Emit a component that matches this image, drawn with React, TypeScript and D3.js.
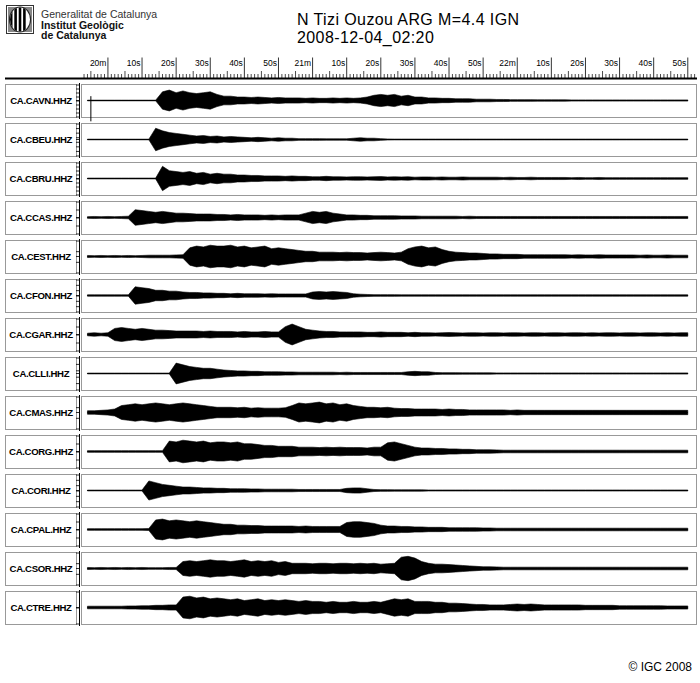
import React from 'react';
import * as d3 from 'd3';

// ---------- DATA ----------
const stations = [
  'CA.CAVN.HHZ', 'CA.CBEU.HHZ', 'CA.CBRU.HHZ', 'CA.CCAS.HHZ', 'CA.CEST.HHZ',
  'CA.CFON.HHZ', 'CA.CGAR.HHZ', 'CA.CLLI.HHZ', 'CA.CMAS.HHZ', 'CA.CORG.HHZ',
  'CA.CORI.HHZ', 'CA.CPAL.HHZ', 'CA.CSOR.HHZ', 'CA.CTRE.HHZ',
];

// envelope half-amplitude samples, every 2 s starting at 02:19:54 (t = -6 s)
const sampleStart = -6;
const sampleStep = 2;

const cavn = [
  0.4, 0.4, 0.4, 0.4, 0.4, 0.4, 0.4, 0.4, 0.4, 0.4,
  0.4, 10, 12, 9, 11, 9, 8, 9, 10, 7,
  5, 5, 4, 4, 3.5, 4, 3.5, 3, 3.5, 3,
  3, 3, 2.5, 3, 2.5, 2.5, 3, 2.5, 3, 2.5,
  3, 4, 6, 7, 6, 7, 5, 6, 4, 4,
  3, 3, 2.5, 2.5, 2, 2, 2, 1.5, 1.5, 1.5,
  1.2, 1.2, 1, 1, 1, 1, 0.8, 0.8, 0.8, 0.8,
  0.8, 0.7, 0.7, 0.7, 0.7, 0.7, 0.7, 0.7, 0.7, 0.7,
  0.7, 0.7, 0.7, 0.7, 0.7, 0.7, 0.7, 0.7, 0.7,
];
const cbeu = [
  0.4, 0.4, 0.4, 0.4, 0.4, 0.4, 0.4, 0.4, 0.4, 0.4,
  13, 10, 8, 7, 6, 5, 4, 4.5, 3.5, 4,
  3, 3.5, 3, 2.5, 2, 2.5, 2, 1.5, 2, 1.5,
  1.5, 1, 1, 1, 1, 0.8, 0.8, 0.8, 0.8, 1.5,
  2, 1.5, 1.5, 1, 0.6, 0.5, 0.5, 0.5, 0.5, 0.5,
  0.5, 0.5, 0.5, 0.5, 0.5, 0.5, 0.5, 0.5, 0.5, 0.5,
  0.5, 0.5, 0.5, 0.5, 0.5, 0.5, 0.5, 0.5, 0.5, 0.5,
  0.5, 0.5, 0.5, 0.5, 0.5, 0.5, 0.5, 0.5, 0.5, 0.5,
  0.5, 0.5, 0.5, 0.5, 0.5, 0.5, 0.5, 0.5, 0.5,
];
const cbru = [
  0.5, 0.5, 0.5, 0.5, 0.5, 0.5, 0.5, 0.5, 0.5, 0.5,
  0.5, 14, 9, 8, 7, 8, 6, 7, 5, 6,
  5, 5, 4, 4, 3.5, 3.5, 3, 3, 3, 2.5,
  3, 2.5, 2.5, 2, 2, 2.5, 2, 2, 1.8, 2,
  2, 1.8, 2, 2.2, 1.8, 2, 1.8, 2, 1.5, 1.8,
  1.8, 1.5, 1.8, 1.5, 1.5, 1.8, 1.5, 1.5, 1.5, 1.5,
  1.5, 1.2, 1.5, 1.2, 1.2, 1.5, 1.2, 1.2, 1.2, 1.2,
  1.2, 1, 1.2, 1, 1, 1.2, 1, 1, 1, 1,
  1, 1, 1, 1, 1, 1, 1, 1, 1,
];
const ccas = [
  1, 1.2, 1, 1.2, 1, 1.2, 1.5, 9, 8, 7,
  6, 7, 6, 5, 5, 4.5, 4, 4, 4, 3.5,
  3.5, 3, 3.5, 3, 3, 3, 2.5, 3, 2.5, 3,
  3, 3, 5, 7, 6, 7, 5, 4, 3, 3,
  2.5, 2.5, 2, 2, 2, 2, 1.8, 1.8, 1.8, 1.5,
  1.5, 1.5, 1.5, 1.5, 1.5, 1.2, 1.5, 1.2, 1.2, 1.2,
  1.2, 1.2, 1.2, 1.2, 1.2, 1.2, 1.2, 1.2, 1.2, 1.2,
  1.2, 1.2, 1.2, 1.2, 1.2, 1.2, 1.2, 1.2, 1.2, 1.2,
  1.2, 1.2, 1.2, 1.2, 1.2, 1.2, 1.2, 1.2, 1.2,
];
const cest = [
  1.2, 1, 1.2, 1, 1.2, 1, 1.2, 1, 1.2, 1.5,
  1.5, 1.5, 1.5, 1.8, 2, 10, 12, 11, 13, 12,
  12, 13, 11, 12, 10, 11, 12, 9, 10, 9,
  8, 7, 6, 6, 5, 5, 5, 4.5, 5, 4.5,
  4.5, 4, 4.5, 5, 4.5, 4, 5, 9, 11, 12,
  10, 11, 8, 6, 5, 4.5, 4, 4, 3.5, 3,
  3, 2.5, 2.5, 2.5, 2, 2, 2, 2, 2, 2,
  2, 1.8, 2, 1.8, 1.8, 2, 1.8, 1.8, 1.8, 1.8,
  1.8, 1.5, 1.8, 1.5, 1.5, 1.8, 1.5, 1.5, 1.5,
];
const cfon = [
  0.8, 0.8, 0.8, 0.8, 0.8, 0.8, 0.8, 10, 9, 8,
  6, 6, 5, 5, 4, 3.5, 3.5, 3, 3, 2.5,
  2.5, 2, 2.5, 2, 2, 2, 1.8, 2, 1.8, 1.8,
  1.8, 1.8, 1.8, 4, 4.5, 4, 4.5, 4, 3.5, 2,
  1.5, 1.2, 1, 1, 1, 1, 0.8, 0.8, 0.8, 0.8,
  0.8, 0.8, 0.8, 0.8, 0.8, 0.8, 0.8, 0.8, 0.8, 0.8,
  0.8, 0.8, 0.8, 0.8, 0.8, 0.8, 0.8, 0.8, 0.8, 0.8,
  0.8, 0.8, 0.8, 0.8, 0.8, 0.8, 0.8, 0.8, 0.8, 0.8,
  0.8, 0.8, 0.8, 0.8, 0.8, 0.8, 0.8, 0.8, 0.8,
];
const cgar = [
  1.5, 2, 1.5, 2, 7, 8, 7, 6, 7, 6,
  5, 5, 4.5, 4, 4, 4, 4, 3.5, 4, 3.5,
  3.5, 3.5, 3, 3.5, 3, 3, 3.5, 3, 3, 9,
  12, 9, 6, 5, 4, 3.5, 3.5, 3, 3, 3,
  3, 2.5, 2.5, 3, 2.5, 2.5, 2.5, 2, 2.5, 2,
  2, 1.8, 2, 2.2, 2, 1.8, 2, 2, 1.8, 2,
  2, 1.8, 2, 2, 1.8, 2, 2, 1.8, 2, 2,
  1.8, 2, 2, 1.8, 2, 1.8, 2, 2, 1.8, 2,
  2, 1.8, 2, 2, 1.8, 2, 1.8, 2, 2,
];
const clli = [
  0.5, 0.5, 0.5, 0.5, 0.5, 0.5, 0.5, 0.5, 0.5, 0.5,
  0.5, 0.5, 0.5, 12, 10, 8, 7, 6, 6, 5,
  4, 3.5, 3, 3, 2.5, 2.5, 2, 2, 2, 1.8,
  1.8, 1.5, 1.5, 1.5, 1.5, 1.5, 1.5, 1.2, 1.5, 1.2,
  1.2, 1.2, 1.2, 1.2, 1.2, 1.2, 1.2, 2, 2.5, 2,
  2, 1.2, 1, 1, 1, 0.8, 0.8, 0.8, 0.8, 0.8,
  0.7, 0.7, 0.7, 0.7, 0.7, 0.7, 0.7, 0.7, 0.7, 0.7,
  0.7, 0.7, 0.7, 0.7, 0.7, 0.7, 0.7, 0.7, 0.7, 0.7,
  0.7, 0.7, 0.7, 0.7, 0.7, 0.7, 0.7, 0.7, 0.7,
];
const cmas = [
  2, 2, 2.5, 3, 4, 8, 9, 10, 9, 10,
  11, 10, 9, 10, 11, 10, 9, 8, 7, 6,
  6, 6, 5.5, 6, 5, 5.5, 5, 5, 5, 5.5,
  8, 11, 10, 11, 12, 10, 11, 9, 10, 8,
  7, 6, 6, 5.5, 6, 5, 4.5, 4.5, 4, 4,
  4, 4, 3.5, 4, 3.5, 3.5, 3, 3, 3, 3,
  3, 3, 2.5, 3, 2.5, 2.5, 2.5, 2.5, 2.5, 2.5,
  2.5, 2.5, 2.5, 2.5, 2.5, 2.5, 2.5, 2.5, 2.5, 2.5,
  2.5, 2.5, 2.5, 2.5, 2.5, 2.5, 2.5, 2.5, 2.5,
];
const corg = [
  1, 1, 1, 1, 1, 1, 1, 1, 1, 1,
  1, 1, 12, 11, 13, 12, 11, 12, 10, 11,
  11, 10, 11, 9, 9, 8, 7, 7, 6, 6,
  6, 5, 5, 5, 4.5, 5, 4.5, 5, 4.5, 4.5,
  4.5, 4, 5, 5, 10, 11, 9, 7, 5, 4,
  4, 3.5, 3.5, 3, 3, 2.5, 2.5, 2, 2, 2,
  1.8, 1.5, 1.5, 1.5, 1.5, 1.5, 1.5, 1.5, 1.5, 1.5,
  1.5, 1.5, 1.5, 1.5, 1.5, 1.5, 1.5, 1.5, 1.5, 1.5,
  1.5, 1.5, 1.5, 1.5, 1.5, 1.5, 1.5, 1.5, 1.5,
];
const cori = [
  0.5, 0.5, 0.5, 0.5, 0.5, 0.5, 0.5, 0.5, 0.5, 11,
  9, 7, 6, 5, 4, 4, 3.5, 3, 3, 2.5,
  2.5, 2, 2, 2, 1.8, 1.8, 1.5, 1.5, 1.5, 1.5,
  1.5, 1.2, 1.2, 1.2, 1.2, 1.2, 1.2, 1.2, 2.5, 3,
  3, 2, 1.2, 1, 1, 0.8, 0.8, 0.8, 0.8, 0.8,
  0.6, 0.6, 0.6, 0.6, 0.6, 0.6, 0.6, 0.6, 0.6, 0.6,
  0.6, 0.6, 0.6, 0.6, 0.6, 0.6, 0.6, 0.6, 0.6, 0.6,
  0.6, 0.6, 0.6, 0.6, 0.6, 0.6, 0.6, 0.6, 0.6, 0.6,
  0.6, 0.6, 0.6, 0.6, 0.6, 0.6, 0.6, 0.6, 0.6,
];
const cpal = [
  1, 1, 1, 1, 1, 1, 1, 1, 1, 1.2,
  11, 12, 10, 11, 10, 9, 10, 9, 8, 7,
  6, 6, 5, 5, 4.5, 4.5, 4, 4, 4, 4,
  4, 3.5, 4, 3.5, 3.5, 3.5, 3.5, 3.5, 8, 9,
  9, 8, 7, 5, 4, 4, 3.5, 3.5, 3, 3,
  2.5, 2.5, 2.5, 2, 2, 2, 2, 2, 1.8, 1.8,
  1.5, 1.5, 1.5, 1.5, 1.5, 1.5, 1.5, 1.5, 1.5, 1.5,
  1.5, 1.5, 1.5, 1.5, 1.5, 1.5, 1.5, 1.5, 1.5, 1.5,
  1.5, 1.5, 1.5, 1.5, 1.5, 1.5, 1.5, 1.5, 1.5,
];
const csor = [
  1.2, 1, 1.2, 1, 1.2, 1, 1.2, 1, 1.2, 1,
  1, 1, 1.2, 1.2, 8, 9, 8, 9, 10, 9,
  9, 8, 9, 10, 8, 9, 8, 9, 7, 8,
  6, 6, 6, 5.5, 6, 6, 5.5, 6, 6, 5.5,
  6, 5.5, 6, 5, 5.5, 6, 13, 14, 12, 8,
  6, 5, 5, 4.5, 4, 3.5, 3, 2.5, 2, 2,
  1.8, 1.5, 1.5, 1.5, 1.5, 1.5, 1.5, 1.5, 1.5, 1.5,
  1.5, 1.5, 1.5, 1.5, 1.5, 1.5, 1.5, 1.5, 1.5, 1.5,
  1.5, 1.5, 1.5, 1.5, 1.5, 1.5, 1.5, 1.5, 1.5,
];
const ctre = [
  1.5, 1.5, 1.5, 1.5, 1.5, 1.5, 1.8, 1.8, 2, 2,
  2.5, 2.5, 3, 3, 12, 13, 11, 12, 10, 11,
  10, 9, 10, 8, 9, 10, 8, 9, 8, 9,
  8, 7, 8, 7, 7, 6, 7, 6, 6, 7,
  6, 6, 7, 6, 8, 10, 9, 10, 7, 7,
  7, 6, 6, 5, 5, 4.5, 4, 3.5, 3.5, 3,
  3, 3, 3.5, 4, 3.5, 4, 3.5, 3, 3, 3,
  3, 3, 3, 2.5, 2.5, 2.5, 2.5, 2.5, 2, 2,
  2, 2, 2, 2, 2, 1.8, 1.8, 1.8, 1.8,
];
const traces = [cavn, cbeu, cbru, ccas, cest, cfon, cgar, clli, cmas, corg, cori, cpal, csor, ctre];

// glitch on CA.CAVN.HHZ (time s, top amplitude, bottom amplitude)
const cavnGlitch = { t: -5, top: 5, bottom: -24 };

// number of amplitude scale ticks per station
const ampTicks = [9, 8, 9, 5, 4, 7, 5, 6, 4, 5, 7, 5, 4, 3];

// time axis (seconds after 02:20:00) and its labels
const timeDomain = [-7.6, 172.7];
const majorTimes = [0, 10, 20, 30, 40, 50, 60, 70, 80, 90, 100, 110, 120, 130, 140, 150, 160, 170];
const majorLabels = ['20m', '10s', '20s', '30s', '40s', '50s', '21m', '10s', '20s', '30s', '40s', '50s', '22m', '10s', '20s', '30s', '40s', '50s'];

const titleLines = ['N Tizi Ouzou ARG M=4.4 IGN', '2008-12-04_02:20'];
const orgLines = ['Generalitat de Catalunya', 'Institut Geològic', 'de Catalunya'];
const copyright = '© IGC 2008';

// ---------- CHART ----------
const W = 700;
const H = 683;
const FONT = "'Liberation Sans', Arial, Helvetica, sans-serif";

export default function App() {
  const x = d3.scaleLinear().domain(timeDomain).range([82, 697]);
  const rows = d3.scaleBand<string>()
    .domain(stations)
    .range([84, 84 + 39 * 14 - 6])
    .paddingInner(6 / 39)
    .paddingOuter(0);
  const bh = rows.bandwidth();

  const minorTimes = d3.range(-7, 173).filter((t) => t % 10 !== 0);

  return (
    <svg width={W} height={H} style={{ position: 'absolute', left: 0, top: 0, background: '#fff' }}
      fontFamily={FONT}>
      <rect x={0} y={0} width={W} height={H} fill="#fff" />

      {/* logo */}
      <defs>
        <clipPath id="oval">
          <ellipse cx={20} cy={19.5} rx={10} ry={12} />
        </clipPath>
      </defs>
      <rect x={6.5} y={5.5} width={27} height={28} fill="#fff" stroke="#333" strokeWidth={1} />
      <rect x={8} y={7} width={24} height={25} fill="#888" />
      <ellipse cx={20} cy={19.5} rx={11} ry={13} fill="#222" />
      <ellipse cx={20} cy={19.5} rx={10} ry={12} fill="#fff" />
      <g clipPath="url(#oval)">
        {[11.2, 15.6, 20, 24.4].map((sx, i) => (
          <rect key={i} x={sx - 1.3} y={6} width={2.6} height={28} fill="#000" />
        ))}
      </g>

      {/* organisation */}
      <text x={41} y={18} fontSize={10.5} fill="#333">{orgLines[0]}</text>
      <text x={41} y={28.5} fontSize={10.5} fontWeight="bold" fill="#111">{orgLines[1]}</text>
      <text x={41} y={39} fontSize={10.5} fontWeight="bold" fill="#111">{orgLines[2]}</text>

      {/* title */}
      <text x={297} y={24.5} fontSize={16} letterSpacing={0.4} fill="#000">{titleLines[0]}</text>
      <text x={297} y={42.5} fontSize={16} letterSpacing={0.4} fill="#000">{titleLines[1]}</text>

      {/* time axis */}
      <g>
        {minorTimes.map((t) => (
          <line key={'m' + t} x1={x(t)} x2={x(t)} y1={t % 5 === 0 ? 71 : 74} y2={78}
            stroke="#000" strokeWidth={0.7} />
        ))}
        {majorTimes.map((t, i) => (
          <g key={'M' + t}>
            <line x1={x(t)} x2={x(t)} y1={57.5} y2={78} stroke="#000" strokeWidth={0.8} />
            <text x={x(t) - 1.5} y={65.5} fontSize={8.5} textAnchor="end" fill="#000">{majorLabels[i]}</text>
          </g>
        ))}
        <line x1={5} x2={697} y1={78.5} y2={78.5} stroke="#000" strokeWidth={2} />
      </g>

      {/* rows */}
      {stations.map((s, i) => {
        const top = rows(s) as number;
        const y = d3.scaleLinear().domain([-19, 19]).range([top + bh, top]);
        const data = traces[i];
        const area = d3.area<number>()
          .x((_, k) => x(sampleStart + k * sampleStep))
          .y0((a) => y(-a))
          .y1((a) => y(a))
          .curve(d3.curveLinear);
        const n = ampTicks[i];
        const tickYs = d3.range(n).map((j) => top + 1 + (j * (bh - 1)) / Math.max(1, n - 1));
        return (
          <g key={s}>
            <rect x={5.5} y={top + 0.5} width={71} height={bh} fill="#fff" stroke="#999" strokeWidth={1} />
            <text x={41} y={top + bh / 2 + 3.5} fontSize={9.6} fontWeight="bold" textAnchor="middle"
              letterSpacing={-0.35} fill="#000">{s}</text>
            <line x1={79.5} x2={79.5} y1={top - 1} y2={top + bh + 2} stroke="#000" strokeWidth={1} />
            {tickYs.map((ty, j) => (
              <line key={j} x1={76} x2={79.5} y1={ty} y2={ty} stroke="#000" strokeWidth={0.8} />
            ))}
            <line x1={76} x2={79.5} y1={y(0)} y2={y(0)} stroke="#000" strokeWidth={0.8} />
            <rect x={81.5} y={top + 0.5} width={615} height={bh} fill="#fff" stroke="#999" strokeWidth={1} />
            <path d={area(data) || ''} fill="#000" stroke="#000" strokeWidth={0.6} />
            <line x1={x(sampleStart)} x2={x(sampleStart + (data.length - 1) * sampleStep)}
              y1={y(0)} y2={y(0)} stroke="#000" strokeWidth={1} />
            {i === 0 && (
              <line x1={x(cavnGlitch.t)} x2={x(cavnGlitch.t)} y1={y(cavnGlitch.top)} y2={y(cavnGlitch.bottom)}
                stroke="#000" strokeWidth={1} />
            )}
          </g>
        );
      })}

      <text x={692} y={671} fontSize={12} textAnchor="end" fill="#000">{copyright}</text>
    </svg>
  );
}
